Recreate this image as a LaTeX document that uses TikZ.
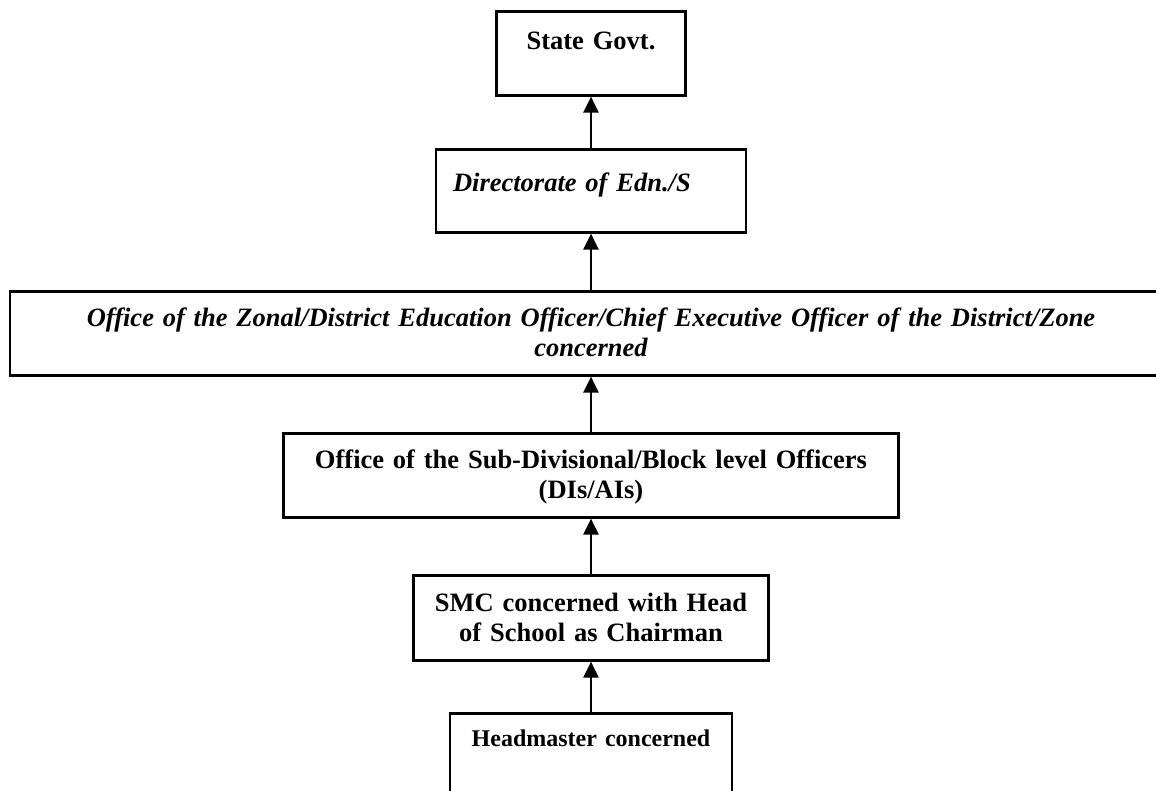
\documentclass[tikz,border=0pt]{standalone}
\usepackage{fontspec}
\setmainfont{Liberation Serif}
\usetikzlibrary{arrows.meta}
\begin{document}
\begin{tikzpicture}[x=0.5pt,y=-0.5pt,
  box/.style={draw,line width=1.3pt,inner sep=0pt,anchor=north,align=center,
    font=\fontsize{13.25}{15}\selectfont\bfseries},
  arr/.style={line width=1.3pt,-{Triangle[length=8pt,width=7.5pt]}}]
\useasboundingbox (0,0) rectangle (1156,791);

\node[box,text width=94.5pt,text height=19pt,text depth=23pt] (state) at (591,10) {State Govt.};
\node[box,align=left,font=\fontsize{13.25}{15}\selectfont\bfseries\itshape,
  text width=155pt,text height=21pt,text depth=20.5pt] (dir) at (591,148) {\hspace*{8.5pt}Directorate of Edn./S};
\node[box,font=\fontsize{13.25}{15}\selectfont\bfseries\itshape,
  text width=581pt,text height=17.5pt,text depth=24.5pt] (zone) at (591,290)
  {Office of the Zonal/District Education Officer/Chief Executive Officer of the District/Zone\\concerned};
\node[box,text width=307.5pt,text height=17.5pt,text depth=24.5pt] (block) at (591,432)
  {Office of the Sub-Divisional/Block level Officers\\(DIs/AIs)};
\node[box,text width=177.5pt,text height=18pt,text depth=24.5pt] (smc) at (591,574)
  {SMC concerned with Head\\of School as Chairman};
\node[box,font=\fontsize{12}{14}\selectfont\bfseries,
  text width=141pt,text height=16.5pt,text depth=30pt] (head) at (591,712) {Headmaster concerned};

\draw[arr] (dir.north) -- (state.south);
\draw[arr] (zone.north) -- (dir.south);
\draw[arr] (block.north) -- (zone.south);
\draw[arr] (smc.north) -- (block.south);
\draw[arr] (head.north) -- (smc.south);
\end{tikzpicture}
\end{document}
